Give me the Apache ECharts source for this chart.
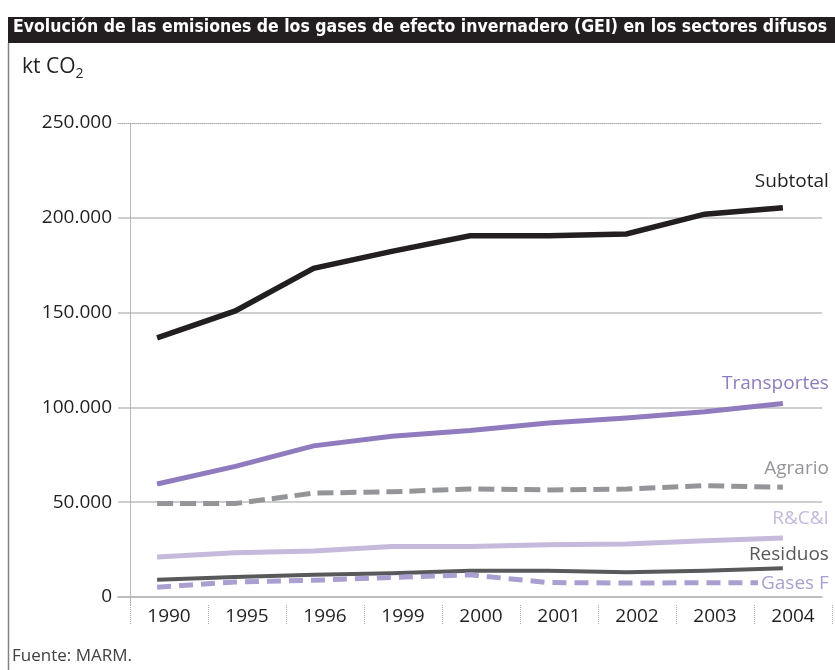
<!DOCTYPE html>
<html>
<head>
<meta charset="utf-8">
<script src="https://cdn.jsdelivr.net/npm/echarts@6/dist/echarts.min.js"></script>
<style>
body { margin: 0px; background: #fff; }
#main1 { width: 835px; height: 670px; }
</style>
</head>
<body>
<div id="main1"></div>
<script>
// años (categorías del eje X)
var years = ['1990', '1995', '1996', '1999', '2000', '2001', '2002', '2003', '2004'];
var yTicks = [0, 50000, 100000, 150000, 200000, 250000];

// kt CO2
var subtotal    = [136700, 150900, 173300, 182300, 190500, 190500, 191500, 201900, 205300];
var transportes = [59600, 68900, 79700, 84800, 87800, 91800, 94400, 97700, 102000];
var agrario     = [49300, 49300, 54800, 55500, 57000, 56500, 56900, 58700, 57900];
var rci         = [21100, 23400, 24200, 26600, 26600, 27500, 28000, 29700, 31100];
var residuos    = [9100, 10500, 11700, 12500, 13800, 13800, 13000, 13800, 15100];
var gasesF      = [5200, 7900, 8800, 10300, 11700, 7600, 7400, 7500, 7600];

var FONT = '"Open Sans", "Noto Sans", sans-serif';

function fmt(v) {
	return String(v).replace(/\B(?=(\d{3})+(?!\d))/g, '.');
}

function line(name, data, color, width, dash, labColor, dy, bg) {
	return {
		name: name,
		type: 'line',
		xAxisIndex: 0,
		yAxisIndex: 0,
		data: data,
		symbol: 'none',
		lineStyle: { color: color, width: width, type: dash || 'solid', cap: 'butt', join: 'miter' },
		endLabel: {
			show: true,
			formatter: name,
			align: 'right',
			verticalAlign: 'middle',
			offset: [38, dy],
			color: labColor,
			fontFamily: FONT,
			fontSize: 19,
			backgroundColor: bg || 'transparent',
			padding: bg ? [0, 0, 0, 3] : 0
		},
		z: 3
	};
}

var myChart = echarts.init(document.getElementById('main1'), null, { renderer: 'canvas' });

var option = {
	animation: false,
	backgroundColor: '#fff',
	graphic: [
		{ type: 'rect', shape: { x: 8, y: 17, width: 827, height: 26 }, style: { fill: '#231f20' } },
		{ type: 'line', shape: { x1: 8.5, y1: 43, x2: 8.5, y2: 670 }, style: { stroke: '#808285', lineWidth: 1.5 } },
		{
			type: 'text', left: 13, top: 18,
			style: {
				text: 'Evolución de las emisiones de los gases de efecto invernadero (GEI) en los sectores difusos',
				fill: '#fff', font: 'bold 17.5px "DejaVu Sans Condensed", "Liberation Sans Narrow", sans-serif'
			}
		},
		{
			type: 'text', left: 22, top: 57,
			style: {
				text: 'kt CO{sub|2}',
				fill: '#231f20', font: '21px ' + FONT,
				rich: { sub: { fontSize: 14, fontFamily: FONT, fill: '#231f20', padding: [13, 0, 0, 0] } }
			}
		},
		{
			type: 'text', left: 12, top: 648,
			style: { text: 'Fuente: MARM.', fill: '#414042', font: '17px ' + FONT }
		}
	],
	grid: [
		{ left: 118, right: 13, top: 123, bottom: 73 },
		{ left: 130, right: 3, top: 123, bottom: 65 }
	],
	xAxis: [
		{
			type: 'category', gridIndex: 0, data: years, boundaryGap: true,
			axisLine: { show: true, lineStyle: { color: '#a7a9ac', width: 1.5 } },
			axisTick: { show: false }, axisLabel: { show: false }, splitLine: { show: false }
		},
		{
			type: 'category', gridIndex: 1, data: years, boundaryGap: true,
			axisLine: { show: false },
			axisTick: { show: true, length: 20, lineStyle: { color: '#a7a9ac', type: 'dotted', width: 1 } },
			axisLabel: { color: '#231f20', fontFamily: FONT, fontSize: 19, margin: 2, interval: 0 },
			splitLine: { show: false }
		},
		{
			type: 'category', gridIndex: 0, data: years, position: 'top',
			axisLine: { show: true, lineStyle: { color: '#a7a9ac', type: 'dotted', width: 1 } },
			axisTick: { show: false }, axisLabel: { show: false }
		}
	],
	yAxis: [
		{
			type: 'value', gridIndex: 0, min: 0, max: 250000, interval: 50000,
			axisLine: { show: false }, axisTick: { show: false },
			axisLabel: {
				color: '#231f20', fontFamily: FONT, fontSize: 19, margin: 6,
				formatter: function (v) { return yTicks.indexOf(v) >= 0 ? fmt(v) : ''; }
			},
			splitLine: { show: true, showMinLine: false, showMaxLine: false, lineStyle: { color: '#bcbec0', width: 1.5 } }
		},
		{
			type: 'value', gridIndex: 1, min: 0, max: 1,
			axisLine: { show: true, lineStyle: { color: '#a7a9ac', type: 'dotted', width: 1 } },
			axisTick: { show: false }, axisLabel: { show: false }, splitLine: { show: false }
		}
	],
	series: [
		line('Subtotal', subtotal, '#231f20', 5.5, null, '#231f20', -26),
		line('Transportes', transportes, '#8f7bbd', 5, null, '#8f7bbd', -20),
		line('Agrario', agrario, '#939598', 5, [16, 7], '#939598', -19),
		line('R&C&I', rci, '#c5b9dc', 5, null, '#c5b9dc', -19),
		line('Residuos', residuos, '#58595b', 4, null, '#58595b', -14),
		line('Gases F', gasesF, '#aa9fd0', 5, [14, 8], '#aa9fd0', 1, '#fff')
	]
};

myChart.setOption(option);
</script>
</body>
</html>
